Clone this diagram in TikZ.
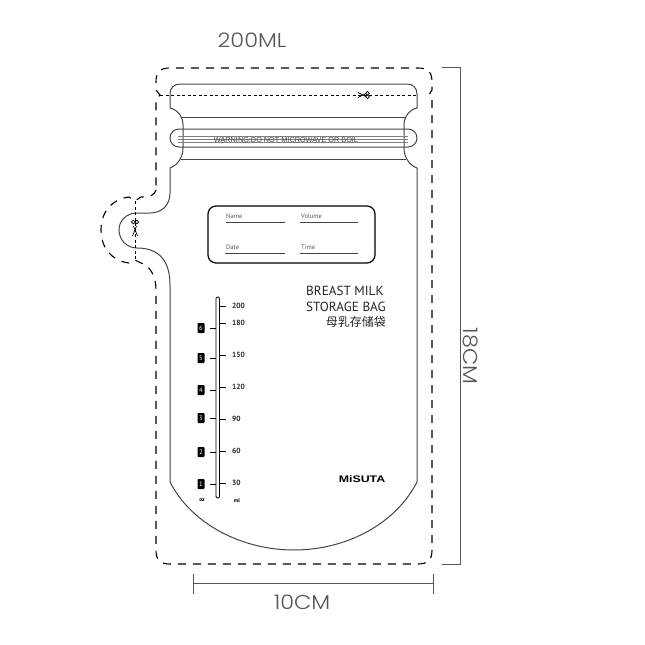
\documentclass[tikz,border=0pt]{standalone}
\usepackage{fontspec}
\setmainfont{Liberation Sans}
\newfontfamily\dimfont{Poppins Light}
\newfontfamily\labelfont{PT Sans}
\newfontfamily\cjkfont{Noto Sans CJK SC}
\usetikzlibrary{positioning,calc}
\definecolor{dimgrey}{HTML}{555555}
\definecolor{baggrey}{HTML}{444444}
\tikzset{
    cutline/.style={line width=1.1pt, black, dash pattern=on 8pt off 7pt},
    tearline/.style={line width=0.9pt, black, dash pattern=on 3pt off 2.5pt},
    bagline/.style={line width=1pt, baggrey},
    sealline/.style={line width=0.8pt, gray},
    dimline/.style={line width=1pt, dimgrey},
    dimtext/.style={font=\dimfont\fontsize{20}{20}\selectfont, text=dimgrey, inner sep=0pt},
    formtext/.style={font=\labelfont\fontsize{6.5}{7}\selectfont, text=dimgrey, inner sep=0pt, anchor=west},
    titletext/.style={font=\labelfont\fontsize{13.2}{14}\selectfont, text=black!85, inner sep=0pt, anchor=west},
    scaletext/.style={font=\labelfont\bfseries\fontsize{7.5}{8}\selectfont, text=black!85, inner sep=0pt, anchor=west},
    ozbox/.style={fill=black, text=white, font=\labelfont\fontsize{6.5}{7}\selectfont, rounded corners=0.8pt, minimum width=7pt, minimum height=10pt, inner sep=0pt},
}
\begin{document}
\begin{tikzpicture}[x=1pt, y=-1pt]
        \useasboundingbox (0,0) rectangle (645,645);
        % Dashed outline
        \draw [cutline]
            (156,190) .. controls (155,195) and (150,197) .. (141,197) -- (135,201) -- (129,197)
            .. controls (112,199) and (101,212) .. (101,230)
            .. controls (101,248) and (112,261) .. (129,263) -- (135,260) -- (141,263)
            .. controls (150,266) and (156,276) .. (156,290)
            -- (156,550) .. controls (156,560) and (160,564) .. (170,564)
            -- (418,564) .. controls (428,564) and (432,560) .. (432,550)
            -- (432,100) -- (429,95) -- (432,90) -- (432,82)
            .. controls (432,72) and (428,68) .. (418,68)
            -- (170,68) .. controls (160,68) and (156,72) .. (156,82)
            -- (156,90) -- (160,95) -- (156,100) -- cycle;
        % Bag outline
        \draw [bagline]
            (180,84) -- (407,84) .. controls (413,84) and (417,88) .. (417,94)
            -- (417,108) .. controls (409,110) and (404,117) .. (404,125)
            -- (404,148) .. controls (404,157) and (409,165) .. (417,168)
            -- (417,482) .. controls (395,525) and (345,550) .. (294,550)
            .. controls (243,550) and (192,525) .. (170,482)
            -- (170,285) .. controls (170,262) and (160,248) .. (137,248)
            .. controls (127,248) and (119,240) .. (119,230)
            .. controls (119,220) and (127,213) .. (137,213) -- (150,213)
            .. controls (162,213) and (170,205) .. (170,193)
            -- (170,168) .. controls (178,165) and (183,157) .. (183,148)
            -- (183,125) .. controls (183,117) and (178,110) .. (170,108)
            -- (170,94) .. controls (170,88) and (174,84) .. (180,84) -- cycle;
        \draw [bagline] (181,117) -- (406,117);
        \draw [bagline] (181,159) -- (406,159);
        % Seal
        \draw [bagline, rounded corners=9pt] (170,129) rectangle (417,147);
        \foreach \i in {136,139,142}
        {
        \draw [sealline] (178,\i) -- (408,\i);
        }
        \node [font=\fontsize{7.3}{8}\selectfont, text=baggrey, inner sep=0pt] (warning) at (286,139.5) {WARNING:DO NOT MICROWAVE OR BOIL};
        % Tear lines
        \draw [tearline] (160,95) -- (417,95);
        \draw [tearline] (135,201) -- (135,260);
        % Scissors
        \draw [line width=0.7pt] (358,92.5) -- (366,96.5) (358,97.5) -- (366,93.5);
        \draw [line width=0.7pt, fill=white] (367.5,93.2) circle (1.9) (367.5,96.8) circle (1.9);
        \draw [line width=0.7pt] (132.5,236) -- (136.5,226) (137.5,236) -- (133.5,226);
        \draw [line width=0.7pt, fill=white] (133.2,222) circle (1.9) (136.8,222) circle (1.9);
        % Form
        \node [draw=black, line width=1.2pt, rounded corners=8pt, minimum width=167pt, minimum height=57pt, inner sep=0pt] (formbox) at (291.5,234.5) {};
        \draw [bagline, line width=0.8pt] (226,222) -- (285,222);
        \draw [bagline, line width=0.8pt] (300,222) -- (358,222);
        \draw [bagline, line width=0.8pt] (225,253) -- (285,253);
        \draw [bagline, line width=0.8pt] (300,253) -- (358,253);
        \node [formtext] (name) at (226,216) {Name};
        \node [formtext] (volume) at (301,216) {Volume};
        \node [formtext] (date) at (226,247) {Date};
        \node [formtext] (time) at (301,247) {Time};
        % Title
        \node [titletext] (title1) at (306,291) {BREAST MILK};
        \node [titletext] (title2) at (306,306.5) {STORAGE BAG};
        \node [font=\cjkfont\fontsize{12}{14}\selectfont, text=black!85, inner sep=0pt, anchor=east] (title3) at (386,322) {母乳存储袋};
        % Scale
        \draw [line width=0.8pt, black, rounded corners=1.2pt] (216,498) -- (216,297) -- (219.5,297) -- (219.5,498) -- cycle;
        \draw [line width=1pt] (220,306) -- (226,306);
        \node [scaletext] (ml200) at (232,306) {200};
        \foreach \y/\v in {323/180,355/150,387/120,419/90,451/60,483/30}
        {
        \draw [line width=1pt] (220,\y) -- (226,\y);
        \node [scaletext] (ml\v) at (232,\y) {\v};
        }
        \foreach \y/\n in {328/6,358/5,390/4,418/3,452/2,484/1}
        {
        \draw [line width=1pt] (210,\y) -- (216,\y);
        \node [ozbox] (oz\n) at (201,\y) {\n};
        }
        \node [font=\labelfont\bfseries\fontsize{5.5}{6}\selectfont, inner sep=0pt] (ozlabel) at (202,500.5) {oz};
        \node [font=\labelfont\bfseries\fontsize{5.5}{6}\selectfont, inner sep=0pt] (mllabel) at (237,500.5) {ml};
        % Logo
        \node [font=\bfseries\fontsize{9.5}{10}\selectfont, inner sep=0pt, xscale=1.3] (logo) at (362,479) {MiSUTA};
        % Dimensions
        \node [dimtext, xscale=1.12] (top) at (252,40) {200ML};
        \node [dimtext, xscale=1.12] (bottom) at (302,602) {10CM};
        \node [dimtext, rotate=-90, xscale=1.12] (side) at (471,356) {18CM};
        \draw [dimline] (193,583) -- (433,583);
        \draw [dimline] (193,574) -- (193,594);
        \draw [dimline] (433,574) -- (433,594);
        \draw [dimline] (460,67) -- (460,564);
        \draw [dimline] (442,67) -- (461,67);
        \draw [dimline] (442,564) -- (461,564);
\end{tikzpicture}
\end{document}
